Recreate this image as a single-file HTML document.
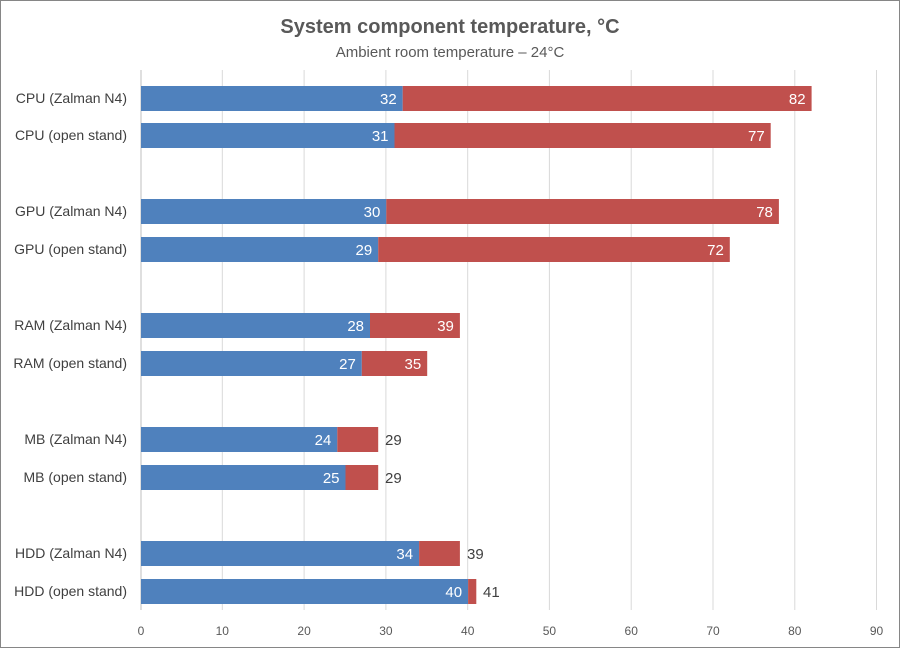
<!DOCTYPE html>
<html><head><meta charset="utf-8"><style>
body{margin:0;background:#fff}
svg text{font-family:"Liberation Sans","DejaVu Sans",sans-serif}
</style></head><body>
<svg width="900" height="648" xmlns="http://www.w3.org/2000/svg">
<rect x="0.5" y="0.5" width="899" height="647" fill="#fff" stroke="#868686"/>
<text x="450" y="33" text-anchor="middle" font-size="20" font-weight="bold" fill="#595959">System component temperature, °C</text>
<text x="450" y="57" text-anchor="middle" font-size="15" fill="#595959">Ambient room temperature – 24°C</text>
<g stroke="#d9d9d9" stroke-width="1">
<line x1="222.3" y1="70" x2="222.3" y2="610"/><line x1="304.1" y1="70" x2="304.1" y2="610"/>
<line x1="385.9" y1="70" x2="385.9" y2="610"/><line x1="467.7" y1="70" x2="467.7" y2="610"/>
<line x1="549.4" y1="70" x2="549.4" y2="610"/><line x1="631.2" y1="70" x2="631.2" y2="610"/>
<line x1="713" y1="70" x2="713" y2="610"/><line x1="794.8" y1="70" x2="794.8" y2="610"/>
<line x1="876.5" y1="70" x2="876.5" y2="610"/>
</g>
<line x1="141" y1="70" x2="141" y2="610" stroke="#bfbfbf"/>
<g font-size="12" fill="#595959" text-anchor="middle">
<text x="141" y="635">0</text><text x="222.3" y="635">10</text><text x="304.1" y="635">20</text>
<text x="385.9" y="635">30</text><text x="467.7" y="635">40</text><text x="549.4" y="635">50</text>
<text x="631.2" y="635">60</text><text x="713" y="635">70</text><text x="794.8" y="635">80</text>
<text x="876.5" y="635">90</text>
</g>
<g>
<rect x="141" y="86" width="261.7" height="25" fill="#4f81bd"/><rect x="402.7" y="86" width="408.9" height="25" fill="#c0504d"/>
<rect x="141" y="123" width="253.5" height="25" fill="#4f81bd"/><rect x="394.5" y="123" width="376.2" height="25" fill="#c0504d"/>
<rect x="141" y="199" width="245.3" height="25" fill="#4f81bd"/><rect x="386.3" y="199" width="392.6" height="25" fill="#c0504d"/>
<rect x="141" y="237" width="237.2" height="25" fill="#4f81bd"/><rect x="378.2" y="237" width="351.6" height="25" fill="#c0504d"/>
<rect x="141" y="313" width="229" height="25" fill="#4f81bd"/><rect x="370" y="313" width="89.9" height="25" fill="#c0504d"/>
<rect x="141" y="351" width="220.8" height="25" fill="#4f81bd"/><rect x="361.8" y="351" width="65.4" height="25" fill="#c0504d"/>
<rect x="141" y="427" width="196.3" height="25" fill="#4f81bd"/><rect x="337.3" y="427" width="40.9" height="25" fill="#c0504d"/>
<rect x="141" y="465" width="204.5" height="25" fill="#4f81bd"/><rect x="345.5" y="465" width="32.7" height="25" fill="#c0504d"/>
<rect x="141" y="541" width="278.1" height="25" fill="#4f81bd"/><rect x="419.1" y="541" width="40.8" height="25" fill="#c0504d"/>
<rect x="141" y="579" width="327.1" height="25" fill="#4f81bd"/><rect x="468.1" y="579" width="8.2" height="25" fill="#c0504d"/>
</g>
<g font-size="15" fill="#fff" text-anchor="end">
<text x="396.7" y="104">32</text><text x="805.6" y="104">82</text>
<text x="388.5" y="141">31</text><text x="764.7" y="141">77</text>
<text x="380.3" y="217">30</text><text x="772.9" y="217">78</text>
<text x="372.2" y="255">29</text><text x="723.8" y="255">72</text>
<text x="364" y="331">28</text><text x="453.9" y="331">39</text>
<text x="355.8" y="369">27</text><text x="421.2" y="369">35</text>
<text x="331.3" y="445">24</text>
<text x="339.5" y="483">25</text>
<text x="413.1" y="559">34</text>
<text x="462.1" y="597">40</text>
</g>
<g font-size="15" fill="#404040">
<text x="385" y="445">29</text><text x="385" y="483">29</text>
<text x="467" y="559">39</text><text x="483" y="597">41</text>
</g>
<g font-size="14" fill="#404040" text-anchor="end">
<text x="127" y="103">CPU (Zalman N4)</text><text x="127" y="140">CPU (open stand)</text>
<text x="127" y="216">GPU (Zalman N4)</text><text x="127" y="254">GPU (open stand)</text>
<text x="127" y="330">RAM (Zalman N4)</text><text x="127" y="368">RAM (open stand)</text>
<text x="127" y="444">MB (Zalman N4)</text><text x="127" y="482">MB (open stand)</text>
<text x="127" y="558">HDD (Zalman N4)</text><text x="127" y="596">HDD (open stand)</text>
</g>
</svg>
</body></html>
